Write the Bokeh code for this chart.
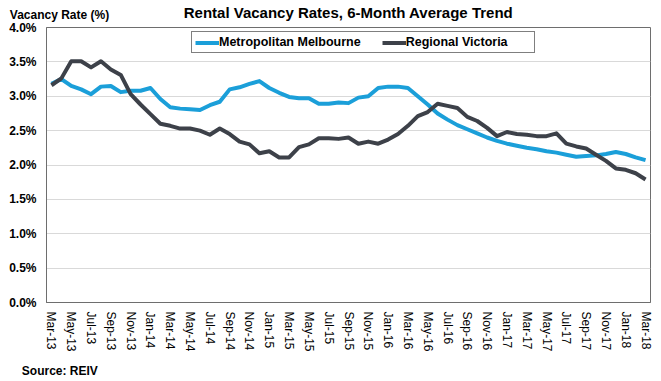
import math
from bokeh.plotting import figure
from bokeh.models import (ColumnDataSource, FixedTicker, PrintfTickFormatter,
                          Legend, LegendItem, LinearAxis, Range1d)
from bokeh.embed import file_html
from bokeh.resources import INLINE

# ---- data -------------------------------------------------------------
tick_labels = ["Mar-13", "May-13", "Jul-13", "Sep-13", "Nov-13",
               "Jan-14", "Mar-14", "May-14", "Jul-14", "Sep-14", "Nov-14",
               "Jan-15", "Mar-15", "May-15", "Jul-15", "Sep-15", "Nov-15",
               "Jan-16", "Mar-16", "May-16", "Jul-16", "Sep-16", "Nov-16",
               "Jan-17", "Mar-17", "May-17", "Jul-17", "Sep-17", "Nov-17",
               "Jan-18", "Mar-18"]

month_index = list(range(61))  # Mar-13 .. Mar-18, monthly

metro = [3.18, 3.25, 3.15, 3.10, 3.03, 3.14, 3.15, 3.06, 3.08, 3.08,
         3.12, 2.96, 2.84, 2.82, 2.81, 2.80, 2.87, 2.92, 3.10, 3.13,
         3.18, 3.22, 3.12, 3.05, 2.99, 2.97, 2.97, 2.89, 2.89, 2.91,
         2.90, 2.98, 3.00, 3.12, 3.14, 3.14, 3.12, 3.00, 2.88, 2.75,
         2.66, 2.58, 2.52, 2.46, 2.40, 2.35, 2.31, 2.28, 2.25, 2.23,
         2.20, 2.18, 2.15, 2.12, 2.13, 2.14, 2.16, 2.19, 2.16, 2.11, 2.07]

regional = [3.16, 3.26, 3.51, 3.51, 3.42, 3.51, 3.39, 3.31, 3.03, 2.88,
            2.74, 2.60, 2.57, 2.53, 2.53, 2.50, 2.44, 2.53, 2.45, 2.34,
            2.30, 2.17, 2.20, 2.11, 2.11, 2.26, 2.30, 2.39, 2.39, 2.38,
            2.40, 2.31, 2.34, 2.31, 2.37, 2.45, 2.57, 2.71, 2.77, 2.89,
            2.86, 2.83, 2.70, 2.64, 2.54, 2.42, 2.48, 2.45, 2.44, 2.42,
            2.42, 2.46, 2.31, 2.27, 2.24, 2.15, 2.06, 1.95, 1.93, 1.88, 1.79]

y_ticks = [0.0, 0.5, 1.0, 1.5, 2.0, 2.5, 3.0, 3.5, 4.0]

series_names = ["Metropolitan Melbourne", "Regional Victoria"]
series_colors = ["#1b9fd9", "#3d4149"]

title_text = "Rental Vacancy Rates, 6-Month Average Trend"
y_caption = "Vacancy Rate (%)"
source_text = "Source:  REIV"

# ---- figure -----------------------------------------------------------
FONT = "Liberation Sans"
FRAME_W = 604
src = ColumnDataSource(dict(x=month_index, metro=metro, regional=regional))

p = figure(width=660, height=380, output_backend="svg", toolbar_location=None,
           x_range=Range1d(-0.5, 60.5), y_range=Range1d(0, 4),
           min_border_left=46, min_border_right=10, min_border_top=27,
           min_border_bottom=78)
p.title = None
p.extra_x_ranges = {"frame_px": Range1d(0, FRAME_W)}

p.outline_line_color = "#6e6e6e"
p.outline_line_width = 1
p.background_fill_color = "white"
p.border_fill_color = "white"

r1 = p.line("x", "metro", source=src, line_color=series_colors[0], line_width=4,
            line_join="round")
r2 = p.line("x", "regional", source=src, line_color=series_colors[1], line_width=4,
            line_join="round")

# x axis
tick_pos = month_index[::2]
p.xaxis.ticker = FixedTicker(ticks=tick_pos)
p.xaxis.major_label_overrides = {pos: lab for pos, lab in zip(tick_pos, tick_labels)}
p.xaxis.major_label_orientation = -math.pi / 2
p.xaxis.major_tick_line_color = None
p.xaxis.minor_tick_line_color = None
p.xaxis.major_tick_out = 0
p.xaxis.major_tick_in = 0
p.xaxis.major_label_standoff = 9
p.xaxis.major_label_text_font = FONT
p.xaxis.major_label_text_font_size = "12px"
p.xaxis.major_label_text_color = "#000000"
p.xaxis.axis_line_color = "#6e6e6e"
p.xgrid.grid_line_color = None

# y axis
p.yaxis.ticker = FixedTicker(ticks=y_ticks)
p.yaxis.formatter = PrintfTickFormatter(format="%.1f%%")
p.yaxis.major_tick_line_color = None
p.yaxis.minor_tick_line_color = None
p.yaxis.major_tick_out = 0
p.yaxis.major_tick_in = 0
p.yaxis.major_label_standoff = 10
p.yaxis.major_label_text_font = FONT
p.yaxis.major_label_text_font_size = "12px"
p.yaxis.major_label_text_font_style = "bold"
p.yaxis.major_label_text_color = "#000000"
p.yaxis.axis_line_color = "#6e6e6e"
p.ygrid.ticker = FixedTicker(ticks=y_ticks)
p.ygrid.grid_line_color = "#d9d9d9"
p.ygrid.grid_line_width = 1


def text_axis(pos, text, size, standoff):
    ax = LinearAxis(x_range_name="frame_px", ticker=FixedTicker(ticks=[pos]),
                    major_label_overrides={pos: text})
    ax.axis_line_color = None
    ax.major_tick_line_color = None
    ax.minor_tick_line_color = None
    ax.major_tick_out = 0
    ax.major_tick_in = 0
    ax.minor_tick_out = 0
    ax.major_label_standoff = standoff
    ax.major_label_text_font = FONT
    ax.major_label_text_font_size = size
    ax.major_label_text_font_style = "bold"
    ax.major_label_text_color = "#000000"
    return ax


# caption above the y axis, with the chart title as that axis' label
top_ax = text_axis(13, y_caption, "12px", 6)
top_ax.axis_label = title_text
top_ax.axis_label_standoff = -16
top_ax.axis_label_text_font = FONT
top_ax.axis_label_text_font_size = "15px"
top_ax.axis_label_text_font_style = "bold"
top_ax.axis_label_text_color = "#000000"
p.add_layout(top_ax, "above")

# source note below the month labels
p.add_layout(text_axis(15, source_text, "12px", 9), "below")

# legend
legend = Legend(items=[LegendItem(label=series_names[0], renderers=[r1]),
                       LegendItem(label=series_names[1], renderers=[r2])],
                orientation="horizontal", location=(145, 249),
                padding=3, spacing=21, margin=0,
                glyph_width=24, glyph_height=13, label_height=13,
                label_width=125, label_standoff=0,
                label_text_font=FONT, label_text_font_size="12.5px",
                label_text_font_style="bold", label_text_color="#000000",
                border_line_color="#000000", border_line_width=1,
                background_fill_color="white", background_fill_alpha=1.0)
p.add_layout(legend, "center")

open("out.html", "w").write(file_html(p, INLINE))
